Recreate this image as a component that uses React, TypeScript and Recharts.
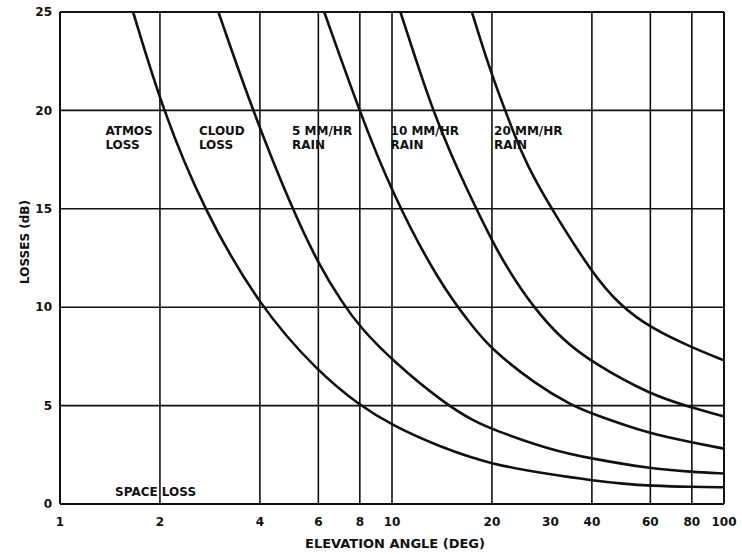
import React from 'react';
import {
  LineChart,
  Line,
  XAxis,
  YAxis,
  ReferenceLine,
  ReferenceDot,
  Label
} from 'recharts';

const FONT = '"DejaVu Sans", sans-serif';
const INK = '#111';

// axis ticks and grid
const X_TICKS = [1, 2, 4, 6, 8, 10, 20, 30, 40, 60, 80, 100];
const Y_TICKS = [0, 5, 10, 15, 20, 25];
const X_GRID = [2, 4, 6, 8, 10, 20, 40, 60, 80];
const Y_GRID = [5, 10, 15, 20];

// curves (angle in deg, loss in dB)
const atmosX = [1.66, 2.04, 2.7, 4, 6, 8, 10, 14, 20, 30, 40, 50, 60, 80, 100];
const atmosY = [25, 20, 15, 10, 6.7, 5.0, 4.0, 2.88, 2.0, 1.5, 1.2, 1.02, 0.93, 0.87, 0.85];

const cloudX = [3.0, 3.8, 5.0, 6, 7.1, 8, 10, 14.4, 17.7, 20, 30, 40, 60, 80, 100];
const cloudY = [25, 20, 15, 12.2, 10.2, 9.0, 7.3, 5.1, 4.2, 3.8, 2.75, 2.3, 1.8, 1.63, 1.55];

const rain5X = [6.25, 8.0, 10, 13.9, 17.7, 20, 27, 34.9, 40, 60, 80, 100];
const rain5Y = [25, 19.9, 15.8, 11.2, 8.9, 7.85, 6.1, 5.0, 4.59, 3.55, 3.14, 2.81];

const rain10X = [10.6, 12, 13.3, 15, 17.7, 20, 22.1, 26.6, 32.6, 40, 60, 80, 100];
const rain10Y = [25, 22.2, 20, 17.8, 15.2, 13.4, 12.05, 10, 8.35, 7.2, 5.55, 4.9, 4.45];

const rain20X = [17.4, 19.6, 21.9, 24.6, 27.2, 30.5, 40, 48.2, 60, 80, 100];
const rain20Y = [25, 22.2, 20, 17.8, 16.35, 14.9, 11.75, 10.15, 8.95, 7.95, 7.3];

// labels inside the plot
const noteX = [1.37, 2.62, 5.0, 9.9, 20.3];
const noteTop = ['ATMOS', 'CLOUD', '5 MM/HR', '10 MM/HR', '20 MM/HR'];
const noteBottom = ['LOSS', 'LOSS', 'RAIN', 'RAIN', 'RAIN'];
const NOTE_Y = 18.75;
const SPACE_X = 1.465;
const SPACE_Y = 0.41;

const toPoints = (xs: number[], ys: number[]) => xs.map((x, i) => ({ x, y: ys[i] }));

const SERIES = [
  toPoints(atmosX, atmosY),
  toPoints(cloudX, cloudY),
  toPoints(rain5X, rain5Y),
  toPoints(rain10X, rain10Y),
  toPoints(rain20X, rain20Y),
];

const textStyle = { fontFamily: FONT, fontWeight: 700, fontSize: 12, fill: INK };

const App: React.FC = () => {
  return (
    <div style={{ position: 'absolute', left: 0, top: 0, background: '#fff' }}>
      <LineChart width={742} height={554} margin={{ top: 12, right: 18, bottom: 0, left: 0 }}>
        <XAxis
          dataKey="x"
          type="number"
          scale="log"
          domain={[1, 100]}
          allowDataOverflow
          ticks={X_TICKS}
          interval={0}
          height={50}
          tickLine={false}
          tickSize={0}
          tickMargin={13}
          axisLine={{ stroke: INK, strokeWidth: 2 }}
          tick={textStyle}
        >
          <Label
            content={(props: any) => {
              const vb = props.viewBox || { x: 60, y: 504, width: 664 };
              return (
                <text x={vb.x + vb.width / 2 + 3} y={vb.y + 44} textAnchor="middle" style={{ ...textStyle, fontSize: 13 }}>
                  ELEVATION ANGLE (DEG)
                </text>
              );
            }}
          />
        </XAxis>
        <YAxis
          type="number"
          domain={[0, 25]}
          ticks={Y_TICKS}
          width={60}
          tickLine={false}
          tickSize={0}
          tickMargin={8}
          axisLine={{ stroke: INK, strokeWidth: 2 }}
          tick={textStyle}
        >
          <Label
            content={() => (
              <text x={29} y={242} transform="rotate(-90 29 242)" textAnchor="middle" style={textStyle}>
                LOSSES (dB)
              </text>
            )}
          />
        </YAxis>

        {X_GRID.map((v) => (
          <ReferenceLine key={'gx' + v} x={v} stroke={INK} strokeWidth={1.6} />
        ))}
        {Y_GRID.map((v) => (
          <ReferenceLine key={'gy' + v} y={v} stroke={INK} strokeWidth={1.6} />
        ))}
        <ReferenceLine x={100} stroke={INK} strokeWidth={2} />
        <ReferenceLine y={25} stroke={INK} strokeWidth={2} />

        {SERIES.map((pts, i) => (
          <Line
            key={i}
            data={pts}
            dataKey="y"
            type="basis"
            stroke={INK}
            strokeWidth={2.6}
            dot={false}
            activeDot={false}
            isAnimationActive={false}
          />
        ))}

        {noteX.map((x, i) => (
          <ReferenceDot
            key={'n' + i}
            x={x}
            y={NOTE_Y}
            r={0}
            fill="none"
            stroke="none"
            label={(props: any) => {
              const vb = props.viewBox;
              return (
                <text x={vb.x} y={vb.y} style={textStyle}>
                  <tspan x={vb.x}>{noteTop[i]}</tspan>
                  <tspan x={vb.x} dy={13.5}>{noteBottom[i]}</tspan>
                </text>
              );
            }}
          />
        ))}
        <ReferenceDot
          x={SPACE_X}
          y={SPACE_Y}
          r={0}
          fill="none"
          stroke="none"
          label={(props: any) => (
            <text x={props.viewBox.x} y={props.viewBox.y} style={textStyle}>
              SPACE LOSS
            </text>
          )}
        />
      </LineChart>
    </div>
  );
};

export default App;
